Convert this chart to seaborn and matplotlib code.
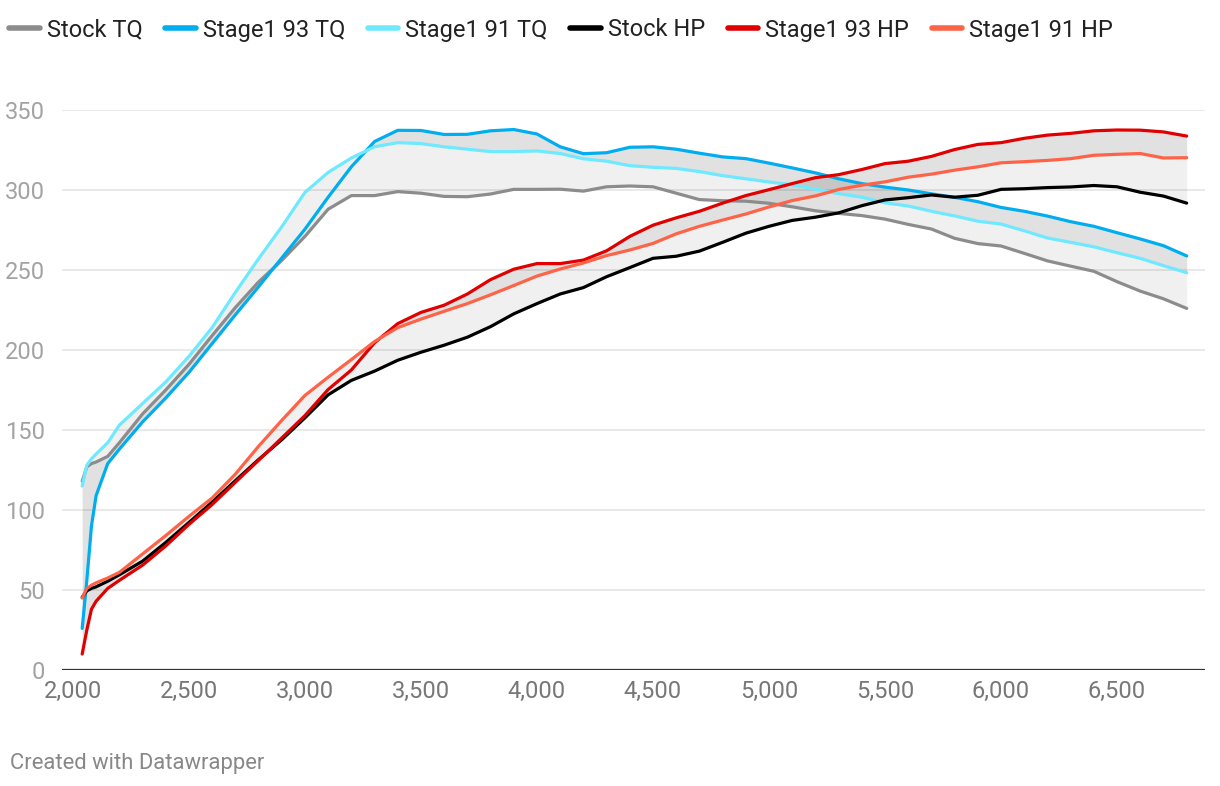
import matplotlib
matplotlib.use("Agg")
import matplotlib.pyplot as plt
from matplotlib.lines import Line2D
from matplotlib.ticker import FuncFormatter
import seaborn as sns
import pandas as pd

# dyno pulls (rpm vs hp / lb-ft)
rpm = [2040, 2060, 2080, 2100, 2150, 2200, 2300, 2400, 2500, 2600, 2700, 2800,
       2900, 3000, 3100, 3200, 3300, 3400, 3500, 3600, 3700, 3800, 3900, 4000,
       4100, 4200, 4300, 4400, 4500, 4600, 4700, 4800, 4900, 5000, 5100, 5200,
       5300, 5400, 5500, 5600, 5700, 5800, 5900, 6000, 6100, 6200, 6300, 6400,
       6500, 6600, 6700, 6800]

stock_tq = [118, 127, 129, 130, 133.5, 142, 160, 175, 191, 209, 226.5, 242.5,
            256, 271, 288, 296.5, 296.5, 299, 298, 296, 295.8, 297.5, 300.4, 300.4,
            300.5, 299.3, 302, 302.5, 302, 298, 294, 293.3, 293, 291.7, 289.5, 287,
            285.4, 284, 281.8, 278.5, 275.6, 269.8, 266.5, 265, 260.4, 255.7, 252.4, 249.2,
            242.7, 236.8, 232, 226]
stage1_93_tq = [26, 56, 90, 109, 129, 138, 155, 170, 186, 204, 222, 239.5,
                257.5, 275.5, 295.5, 314.5, 330.3, 337.3, 337.2, 334.7, 334.8, 337, 337.8, 335,
                327, 322.7, 323.3, 326.7, 327, 325.5, 323, 320.7, 319.6, 316.8, 313.8, 310.7,
                307, 304, 301.8, 300, 297.6, 295.4, 292.7, 289.1, 286.7, 283.7, 280.2, 277.3,
                273.3, 269.4, 265.2, 258.8]
stage1_91_tq = [115, 128, 132, 135, 142, 153, 166.5, 180, 196, 214, 236, 257,
                277, 298.5, 311, 320, 327, 329.6, 329, 327, 325.5, 324, 324, 324.4,
                322.8, 319.5, 318, 315.2, 314.2, 313.5, 311.5, 309, 307, 305, 303.3, 300.5,
                297.7, 295.5, 292, 290, 286.7, 283.8, 280.5, 278.7, 274.5, 270, 267.3, 264.5,
                260.8, 257.3, 252.7, 248.3]
stock_hp = [45.5, 49.5, 51, 52, 55.5, 59.5, 68, 79.7, 92.2, 104.9, 118.3, 131.5,
            143.9, 157.6, 172, 181, 186.8, 193.6, 198.6, 203, 208, 214.6, 222.6, 229,
            235, 239, 245.8, 251.5, 257.3, 258.6, 261.8, 267.3, 273, 277.3, 281, 283,
            285.7, 290.2, 293.8, 295.2, 296.9, 295.5, 296.7, 300.4, 300.8, 301.5, 301.9, 302.8,
            302, 298.6, 296.2, 291.8]
stage1_93_hp = [10, 25, 38, 43, 51, 56, 65.5, 77.5, 91, 103.4, 117.3, 131,
                145, 159, 175.3, 187.5, 204.5, 216.5, 223.5, 228, 235, 244, 250.5, 254,
                254, 256.2, 262, 271, 278, 282.6, 286.7, 291.8, 296.5, 300.2, 304, 307.7,
                309.6, 312.8, 316.5, 318, 321, 325.3, 328.5, 329.6, 332.3, 334.3, 335.4, 337,
                337.5, 337.4, 336.3, 333.7]
stage1_91_hp = [45, 51, 53, 54.5, 57.5, 61, 72.5, 84, 96, 107.5, 122.4, 139.8,
                156, 171.6, 183, 194, 205.3, 214, 219.3, 224.2, 229, 234.5, 240.3, 246.2,
                250.6, 254.4, 259, 262.5, 266.6, 272.6, 277.3, 281.2, 285, 289.4, 293.4, 296.3,
                300.3, 303, 305.1, 308, 309.9, 312.4, 314.5, 317, 317.7, 318.5, 319.6, 321.7,
                322.3, 322.8, 320, 320.2]

series_names = ["Stock TQ", "Stage1 93 TQ", "Stage1 91 TQ",
                "Stock HP", "Stage1 93 HP", "Stage1 91 HP"]
colors = ["#8c8c8c", "#00aeef", "#6ee9ff", "#000000", "#e00000", "#ff6347"]
y_ticks = [0, 50, 100, 150, 200, 250, 300, 350]
x_ticks = [2000, 2500, 3000, 3500, 4000, 4500, 5000, 5500, 6000, 6500]

wide = pd.DataFrame({"rpm": rpm,
                     "Stock TQ": stock_tq, "Stage1 93 TQ": stage1_93_tq,
                     "Stage1 91 TQ": stage1_91_tq, "Stock HP": stock_hp,
                     "Stage1 93 HP": stage1_93_hp, "Stage1 91 HP": stage1_91_hp})
df = wide.melt(id_vars="rpm", var_name="series", value_name="value")

sns.set_theme(style="white")
plt.rcParams["font.family"] = ["Roboto", "DejaVu Sans"]

W, H = 1220, 786
fig = plt.figure(figsize=(W / 100, H / 100), dpi=100)
ax = fig.add_axes([62 / W, 1 - 670 / H, (1205 - 62) / W, (670 - 110) / H])

# shaded ranges between the stock and stage1 pulls
fill_kw = dict(color="#000000", alpha=0.06, linewidth=0, zorder=1)
ax.fill_between(rpm, stage1_93_tq, stock_tq, **fill_kw)
ax.fill_between(rpm, stage1_93_tq, stage1_91_tq, **fill_kw)
ax.fill_between(rpm, stage1_93_hp, stock_hp, **fill_kw)
ax.fill_between(rpm, stage1_93_hp, stage1_91_hp, **fill_kw)

sns.lineplot(data=df, x="rpm", y="value", hue="series", hue_order=series_names,
             palette=dict(zip(series_names, colors)), linewidth=2.3,
             legend=False, ax=ax, zorder=3)
for ln in ax.lines:
    ln.set_solid_capstyle("round")
    ln.set_solid_joinstyle("round")

ax.set_xlim(1953, 6879)
ax.set_ylim(0, 350)
ax.set_xticks(x_ticks)
ax.set_yticks(y_ticks)
ax.xaxis.set_major_formatter(FuncFormatter(lambda v, p: f"{int(v):,}"))
ax.set_xlabel("")
ax.set_ylabel("")
for s in ax.spines.values():
    s.set_visible(False)
ax.grid(axis="y", color="#e3e3e3", linewidth=1.1, zorder=0)
ax.grid(axis="x", visible=False)
ax.axhline(0, color="#333333", linewidth=1.6, zorder=4)
ax.tick_params(axis="y", length=0, pad=12, labelsize=17, labelcolor="#a3a3a3")
ax.tick_params(axis="x", length=0, pad=7, labelsize=17, labelcolor="#777777")

handles = [Line2D([0], [0], color=c, linewidth=4, solid_capstyle="round") for c in colors]
fig.legend(handles, series_names, loc="center left", bbox_to_anchor=(9 / W, 1 - 30 / H),
           ncol=6, frameon=False, fontsize=17, handlelength=1.3, handletextpad=0.3,
           columnspacing=0.95, borderpad=0, borderaxespad=0, labelcolor="#222222")

fig.text(10 / W, 1 - 763 / H, "Created with Datawrapper", fontsize=15.8,
         color="#888888", va="center", ha="left")

fig.savefig("out.png", dpi=100)
